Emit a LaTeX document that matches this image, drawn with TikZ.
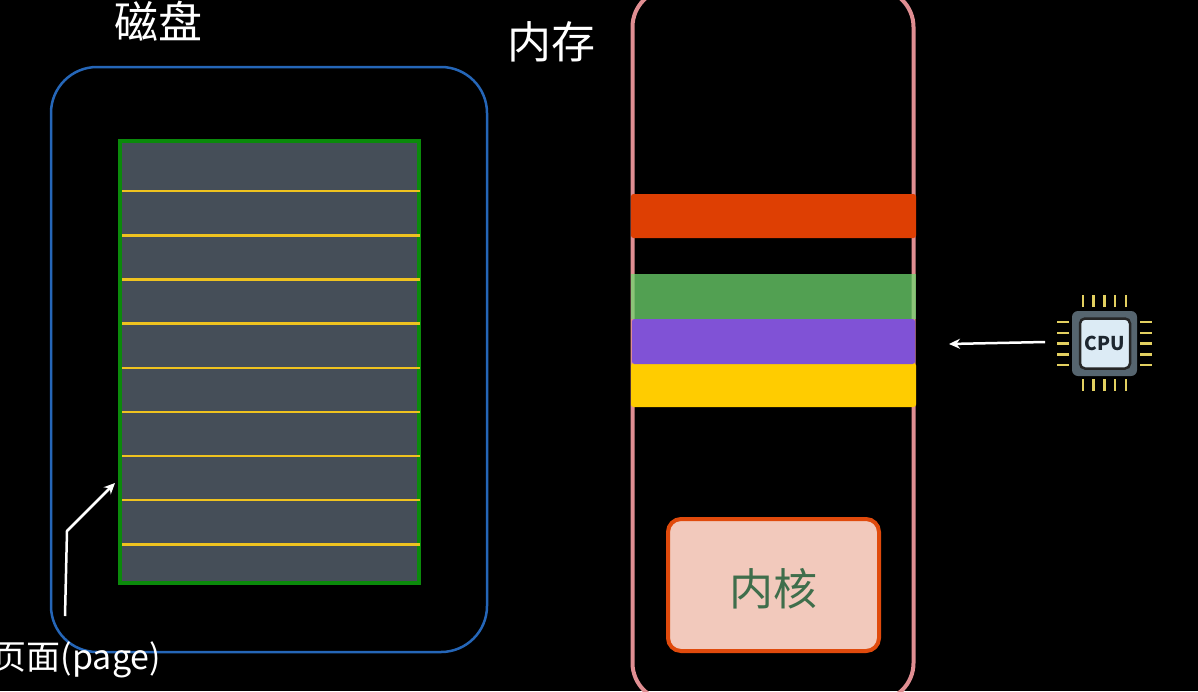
\documentclass[tikz,border=0pt]{standalone}
\usepackage{fontspec}
\setmainfont{Noto Sans CJK SC}
\usetikzlibrary{arrows.meta,positioning}
\definecolor{osDisk}{HTML}{2566B8}
\definecolor{osStack}{HTML}{454E58}
\definecolor{osStackEdge}{HTML}{0B8A0B}
\definecolor{osLine}{HTML}{EFC31F}
\definecolor{osFrame}{HTML}{E08E92}
\definecolor{osRed}{HTML}{DE3F03}
\definecolor{osGreen}{HTML}{6FD86F}
\definecolor{osPurple}{HTML}{8052D6}
\definecolor{osYellow}{HTML}{FFCC00}
\definecolor{osKernel}{HTML}{F2C9BC}
\definecolor{osKernelEdge}{HTML}{E04A0C}
\definecolor{osKernelText}{HTML}{3F6E4B}
\definecolor{osPin}{HTML}{E3D060}
\definecolor{osChip}{HTML}{56656F}
\definecolor{osDie}{HTML}{DCEBF5}
\definecolor{osChipText}{HTML}{1E2730}
\tikzset{
  box/.style      ={outer sep=0pt,inner sep=0pt},
  title/.style    ={box,font=\fontsize{44}{44}\selectfont,text=white},
  diskbox/.style  ={box,draw=osDisk,line width=2.5pt,rounded corners=46pt,
                    minimum width=436pt,minimum height=585pt},
  stackbox/.style ={box,draw=osStackEdge,fill=osStack,line width=3.5pt,
                    minimum width=299pt,minimum height=442pt},
  membox/.style   ={box,draw=osFrame,line width=4pt,rounded corners=38pt,
                    minimum width=281pt,minimum height=712pt},
  band/.style     ={box,rounded corners=2.5pt,minimum width=285pt,minimum height=44pt},
  kernelbox/.style={box,draw=osKernelEdge,fill=osKernel,line width=4pt,rounded corners=13pt,
                    minimum width=211pt,minimum height=132pt,text=osKernelText,
                    font=\fontsize{44}{44}\selectfont},
  pageline/.style ={osLine,line width=2.5pt},
  flow/.style     ={-{Stealth[length=11pt,width=10pt]},white,line width=2.5pt},
  pin/.style      ={osPin,line width=2.8pt},
}
\begin{document}
\begin{tikzpicture}[x=1pt,y=-1pt]
\useasboundingbox[fill=black] (0,0) rectangle (1198,691);

% disk
\node[title] (disklabel) at (158,21) {磁盘};
\node[diskbox] (disk) at (269,359.5) {};
\node[stackbox] (stack) at (269.5,362) {};
\foreach \y in {191,235.5,279.5,323.5,368,412,456,500,544.5}
  \draw[pageline] (122,\y) -- (420,\y);

% page label
\node[box,font=\fontsize{34}{34}\selectfont,text=white,anchor=east] (pagelabel) at (161,660) {页面(page)};
\coordinate (pagetail) at (65,616);
\coordinate (pagebend) at (67,531);
\coordinate (pagetip) at (115,483);
\draw[flow] (pagetail) -- (pagebend) -- (pagetip);

% memory
\node[title] (memlabel) at (551,42) {内存};
\node[membox] (mem) at (773,345) {};
\node[band,fill=osRed] (bandred) at (773.5,216) {};
\node[band,fill=osGreen,fill opacity=0.74,rounded corners=0pt,minimum height=45pt] (bandgreen) at (773.5,296.5) {};
\node[band,fill=osYellow,minimum height=44pt] (bandyellow) at (773.5,385) {};
\node[band,fill=osPurple,minimum width=283pt,minimum height=45pt] (bandpurple) at (773.5,341.5) {};
\node[kernelbox] (kernel) at (773.5,585) {\raisebox{-20pt}[0pt][0pt]{内核}};

% cpu
\node[box,fill=osChip,rounded corners=6pt,minimum size=65pt] (chip) at (1104.5,343.5) {};
\node[box,draw=black!85,fill=osDie,line width=2.5pt,rounded corners=5pt,minimum size=50pt,
      text=osChipText,font=\fontsize{19}{19}\selectfont\bfseries] (die) at (1105,343.5) {CPU};
\foreach \p in {-21.5,-11,0,10.5,21.5} {
  \draw[pin] ([xshift=\p pt,yshift=4pt]chip.north) -- ++(0,-12);
  \draw[pin] ([xshift=\p pt,yshift=-3pt]chip.south) -- ++(0,12);
  \draw[pin] ([xshift=-3pt,yshift=\p pt]chip.west) -- ++(-12,0);
  \draw[pin] ([xshift=3pt,yshift=\p pt]chip.east) -- ++(12,0);
}
\coordinate (cputail) at (1045,342);
\coordinate (cputip) at (949,344);
\draw[flow] (cputail) -- (cputip);
\end{tikzpicture}
\end{document}
